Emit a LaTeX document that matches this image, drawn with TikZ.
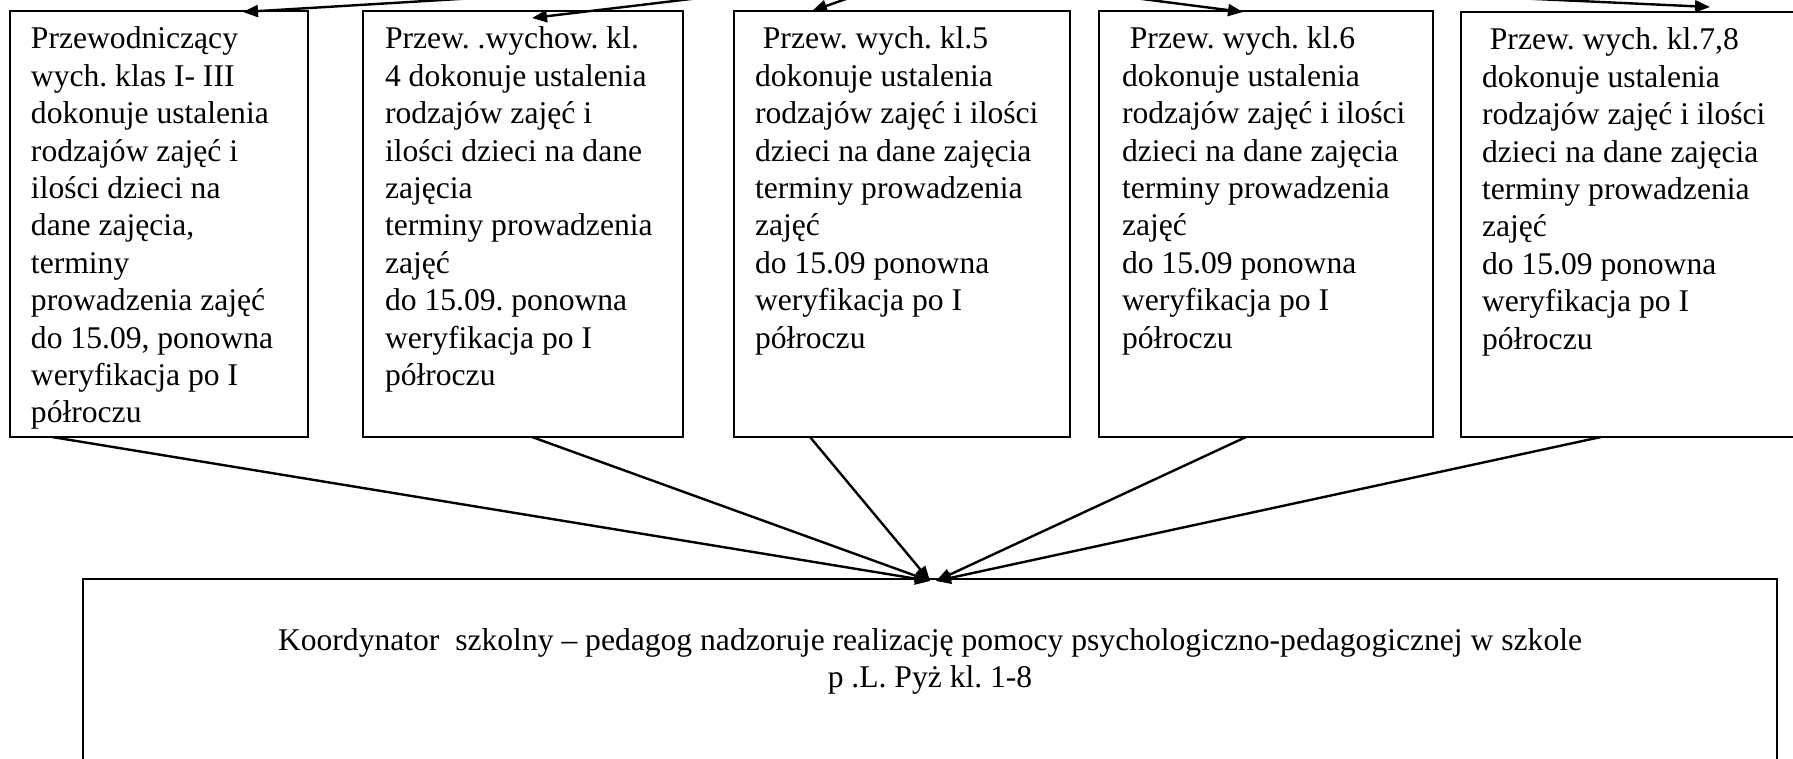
\documentclass[tikz,border=0pt]{standalone}
\usepackage{fontspec}
\setmainfont{Liberation Serif}
\usetikzlibrary{arrows.meta}
\frenchspacing
\begin{document}
\begin{tikzpicture}[x=0.5pt,y=-0.5pt,
  boxstyle/.style={draw, line width=0.9pt, inner sep=0pt, outer sep=0pt, anchor=north west},
  txt/.style={anchor=north west, inner sep=0pt, outer sep=0pt, align=left, font=\fontsize{15.8}{18.7}\selectfont\frenchspacing},
  ctxt/.style={anchor=north, inner sep=0pt, outer sep=0pt, align=center, font=\fontsize{15.8}{18.7}\selectfont\frenchspacing},
  conn/.style={line width=1.2pt, -{Triangle[length=7.5pt,width=6pt]}}]
\useasboundingbox (0,0) rectangle (1793,759);
\clip (0,0) rectangle (1793,759);
% boxes
\node[boxstyle, minimum width=149pt, minimum height=213pt] (b1) at (10,11) {};
\node[boxstyle, minimum width=160pt, minimum height=213pt] (b2) at (363,11) {};
\node[boxstyle, minimum width=168pt, minimum height=213pt] (b3) at (734,11) {};
\node[boxstyle, minimum width=167pt, minimum height=213pt] (b4) at (1099,11) {};
\node[boxstyle, minimum width=169.5pt, minimum height=212.5pt] (b5) at (1461,12) {};
\node[boxstyle, minimum width=847pt, minimum height=110pt] (kb) at (83,579) {};
% texts
\node[txt] (t1) at (31,22.8) {\strut Przewodniczący\\wych. klas I- III\\dokonuje ustalenia\\rodzajów zajęć i\\ilości dzieci na\\dane zajęcia,\\terminy\\prowadzenia zajęć\\do 15.09, ponowna\\weryfikacja po I\\półroczu};
\node[txt] (t2) at (385,22.8) {\strut Przew. .wychow. kl.\\4 dokonuje ustalenia\\rodzajów zajęć i\\ilości dzieci na dane\\zajęcia\\terminy prowadzenia\\zajęć\\do 15.09. ponowna\\weryfikacja po I\\półroczu};
\node[txt] (t3) at (755,22.8) {\strut\hspace*{0.25em}Przew. wych. kl.5\\dokonuje ustalenia\\rodzajów zajęć i ilości\\dzieci na dane zajęcia\\terminy prowadzenia\\zajęć\\do 15.09 ponowna\\weryfikacja po I\\półroczu};
\node[txt] (t4) at (1122,22.8) {\strut\hspace*{0.25em}Przew. wych. kl.6\\dokonuje ustalenia\\rodzajów zajęć i ilości\\dzieci na dane zajęcia\\terminy prowadzenia\\zajęć\\do 15.09 ponowna\\weryfikacja po I\\półroczu};
\node[txt] (t5) at (1482,23.8) {\strut\hspace*{0.25em}Przew. wych. kl.7,8\\dokonuje ustalenia\\rodzajów zajęć i ilości\\dzieci na dane zajęcia\\terminy prowadzenia\\zajęć\\do 15.09 ponowna\\weryfikacja po I\\półroczu};
\node[ctxt] (kt) at (930,624) {\strut Koordynator\ \ szkolny – pedagog nadzoruje realizację pomocy psychologiczno-pedagogicznej w szkole\\p .L. Pyż kl. 1-8};
% top arrows from a source above the picture
\coordinate (src) at (925,-29);
\coordinate (a1) at (243,12);
\coordinate (a2) at (532,18);
\coordinate (a3) at (812,11);
\coordinate (a4) at (1243,12);
\coordinate (a5) at (1710,7);
\draw[conn] (src) -- (a1);
\draw[conn] (src) -- (a2);
\draw[conn] (src) -- (a3);
\draw[conn] (src) -- (a4);
\draw[conn] (src) -- (a5);
% bottom arrows
\coordinate (s1) at (52,437);
\coordinate (s2) at (532,437);
\coordinate (s3) at (810,437);
\coordinate (s4) at (1246,437);
\coordinate (s5) at (1601,437);
\coordinate (k1) at (930,581);
\coordinate (k2) at (936,581);
\draw[conn] (s1) -- (k1);
\draw[conn] (s2) -- (k1);
\draw[conn] (s3) -- (k1);
\draw[conn] (s4) -- (k2);
\draw[conn] (s5) -- (k2);
\end{tikzpicture}
\end{document}
